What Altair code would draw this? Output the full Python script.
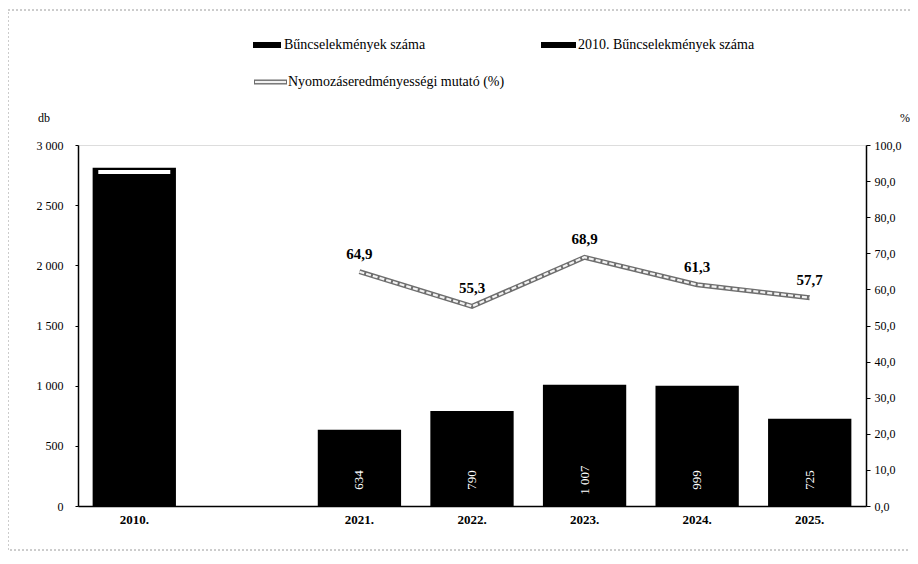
import altair as alt
import pandas as pd

categories = ["2010.", " ", "2021.", "2022.", "2023.", "2024.", "2025."]
bar_years = ["2010.", "2021.", "2022.", "2023.", "2024.", "2025."]
bar_values = [2810, 634, 790, 1007, 999, 725]
bar_series = ["2010. Bűncselekmények száma", "Bűncselekmények száma", "Bűncselekmények száma",
              "Bűncselekmények száma", "Bűncselekmények száma", "Bűncselekmények száma"]
bar_labels = ["", "634", "790", "1 007", "999", "725"]
line_years = ["2021.", "2022.", "2023.", "2024.", "2025."]
line_values = [64.9, 55.3, 68.9, 61.3, 57.7]
line_labels = ["64,9", "55,3", "68,9", "61,3", "57,7"]
marker_years = ["2010."]
marker_values = [92.5]

W, H = 788, 361
SERIF = "Liberation Serif"

bars_df = pd.DataFrame({"year": bar_years, "value": bar_values, "series": bar_series, "label": bar_labels})
line_df = pd.DataFrame({"year": line_years, "value": line_values, "label": line_labels})
marker_df = pd.DataFrame({"year": marker_years, "value": marker_values})

xenc = alt.X("year:N", sort=categories,
             scale=alt.Scale(domain=categories, paddingInner=0.26, paddingOuter=0.13),
             axis=alt.Axis(title=None, labelAngle=0, ticks=False, labelFont=SERIF, labelFontSize=13,
                           labelFontWeight="bold", labelColor="#000", labelPadding=7,
                           domainColor="#000", domainWidth=1.5))

def xc():
    return alt.X("year:N", sort=categories, bandPosition=0.5)

yleft = alt.Scale(domain=[0, 3000], nice=False)
yright = alt.Scale(domain=[0, 100], nice=False)

left_axis = alt.Axis(title=None, values=[0, 500, 1000, 1500, 2000, 2500, 3000],
                     labelExpr="replace(format(datum.value, ','), ',', ' ')",
                     labelFont=SERIF, labelFontSize=12, labelColor="#000", labelPadding=12,
                     tickSize=3, tickColor="#000", domainColor="#000", domainWidth=1.5, grid=False)
right_axis = alt.Axis(title=None, orient="right", values=[0, 10, 20, 30, 40, 50, 60, 70, 80, 90, 100],
                      labelExpr="replace(format(datum.value, '.1f'), '.', ',')",
                      labelFont=SERIF, labelFontSize=12, labelColor="#000", labelPadding=4,
                      tickSize=4, tickColor="#000", domainColor="#000", domainWidth=1.5, grid=False)

base_bars = alt.Chart(bars_df)
bars = base_bars.mark_bar(color="#000").encode(
    x=xenc, y=alt.Y("value:Q", scale=yleft, axis=left_axis))
bar_text = base_bars.mark_text(color="#fff", angle=270, font=SERIF, fontSize=13, dx=26, dy=0,
                               align="center", baseline="middle").encode(
    x=xc(), y=alt.Y("zero:Q", scale=yleft, axis=None), text="label:N"
).transform_calculate(zero="0")

base_line = alt.Chart(line_df)
line_outer = base_line.mark_line(color="#6e6e6e", strokeWidth=5).encode(
    x=xc(), y=alt.Y("value:Q", scale=yright, axis=right_axis))
line_inner = base_line.mark_line(color="#f2f2f2", strokeWidth=2.2, strokeDash=[5, 2]).encode(
    x=xc(), y=alt.Y("value:Q", scale=yright, axis=None))
line_text = base_line.mark_text(font=SERIF, fontSize=15, fontWeight="bold", color="#000", dy=-18).encode(
    x=xc(), y=alt.Y("value:Q", scale=yright, axis=None), text="label:N")
marker = alt.Chart(marker_df).mark_tick(color="#fff", opacity=1, thickness=4, size=72).encode(
    x=xc(), y=alt.Y("value:Q", scale=yright, axis=None))

# legend and axis unit labels
leg_df = pd.DataFrame({"t": [0]})
leg = alt.Chart(leg_df)
legend_layers = [
    leg.mark_rect(color="#000").encode(x=alt.value(175), x2=alt.value(203), y=alt.value(-103), y2=alt.value(-97)),
    leg.mark_text(text="Bűncselekmények száma", font=SERIF, fontSize=14, align="left", baseline="middle", color="#000").encode(
        x=alt.value(206), y=alt.value(-100)),
    leg.mark_rect(color="#000").encode(x=alt.value(463), x2=alt.value(498), y=alt.value(-103), y2=alt.value(-97)),
    leg.mark_text(text="2010. Bűncselekmények száma", font=SERIF, fontSize=14, align="left", baseline="middle", color="#000").encode(
        x=alt.value(500), y=alt.value(-100)),
    leg.mark_rule(color="#6e6e6e", strokeWidth=5).encode(x=alt.value(176), x2=alt.value(209), y=alt.value(-63)),
    leg.mark_rule(color="#f2f2f2", strokeWidth=2.2).encode(x=alt.value(177), x2=alt.value(208), y=alt.value(-63)),
    leg.mark_text(text="Nyomozáseredményességi mutató (%)", font=SERIF, fontSize=14, align="left", baseline="middle", color="#000").encode(
        x=alt.value(210), y=alt.value(-63)),
    leg.mark_text(text="db", font=SERIF, fontSize=12, align="left", baseline="middle", color="#000").encode(
        x=alt.value(-40), y=alt.value(-27)),
    leg.mark_text(text="%", font=SERIF, fontSize=12, align="right", baseline="middle", color="#000").encode(
        x=alt.value(832), y=alt.value(-27)),
    leg.mark_rect(fill=None, stroke="#9a9a9a", strokeWidth=1, strokeDash=[2, 2]).encode(
        x=alt.value(-70), x2=alt.value(834), y=alt.value(-135), y2=alt.value(405)),
]

chart = alt.layer(bars, bar_text, line_outer, line_inner, line_text, marker, *legend_layers).resolve_scale(
    y="independent"
).properties(
    width=W, height=H,
    autosize=alt.AutoSizeParams(type="none"),
    padding={"left": 70, "top": 137, "right": 44, "bottom": 50},
).configure_view(stroke=None).configure(background="#ffffff")

chart.save("out.html", embed_options={"renderer": "svg", "actions": False})
